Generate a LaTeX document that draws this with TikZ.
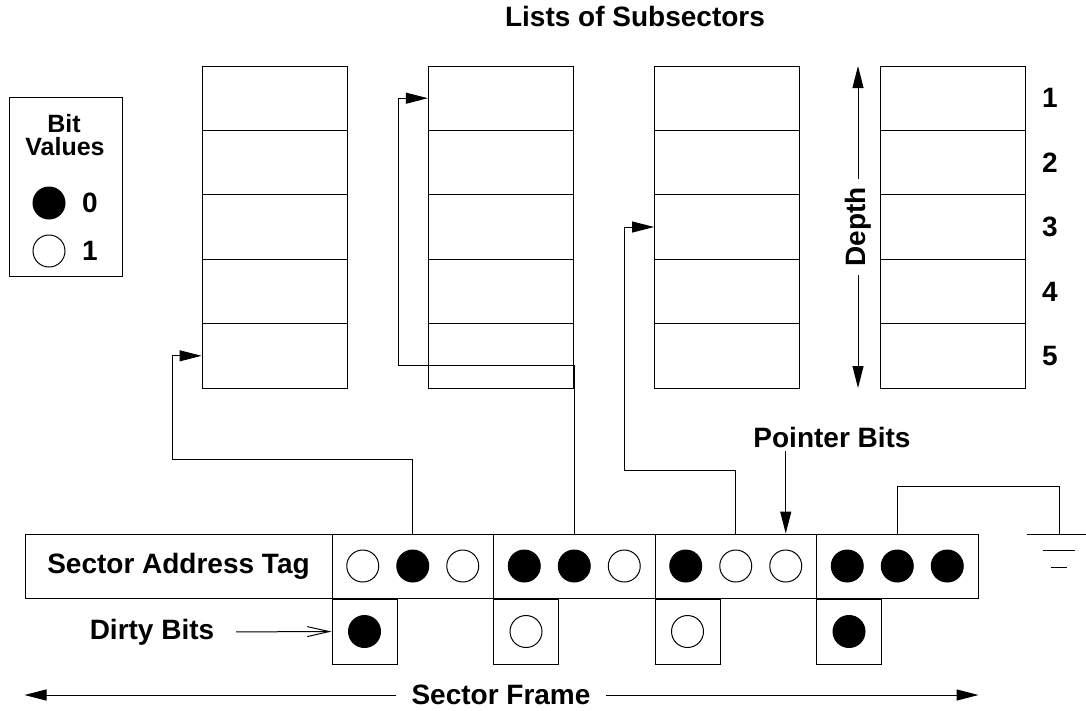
\documentclass[tikz,border=0pt]{standalone}
\usepackage{fontspec}
\setmainfont{Liberation Sans}
\usetikzlibrary{arrows.meta, positioning}

\begin{document}
\begin{tikzpicture}[
    x=1pt, y=-1pt,
    font=\fontsize{28}{30}\selectfont\bfseries,
    line width=1pt,
    tip/.style={-{Triangle[length=22pt,width=11pt]}},
    cell/.style={draw, rectangle, minimum width=145pt, minimum height=64.4pt, inner sep=0pt},
    group/.style={draw, rectangle, minimum width=161.5pt, minimum height=64pt, inner sep=0pt},
    dirty/.style={draw, rectangle, minimum size=65pt, inner sep=0pt},
    bit0/.style={circle, draw, fill=black, minimum size=32pt, inner sep=0pt},
    bit1/.style={circle, draw, minimum size=32pt, inner sep=0pt},
    legtext/.style={font=\fontsize{25}{25}\selectfont\bfseries, inner sep=0pt},
]
    \useasboundingbox (0,0) rectangle (1086,710);

    % lists of subsectors
    \foreach \c in {1,...,4}
        \foreach \r in {1,...,5}
            \node[cell] (L\c-\r) at ({274.5+226.3*(\c-1)}, {98.2+64.4*(\r-1)}) {};
    \foreach \r in {1,...,5}
        \node (n\r) at (1050, {98.2+64.4*(\r-1)}) {\r};
    \node (title) at (635,16) {Lists of Subsectors};

    \coordinate (dtop) at (858,66);
    \coordinate (dbot) at (858,388);
    \draw[{Triangle[length=22pt,width=11pt]}-{Triangle[length=22pt,width=11pt]}]
        (dtop) -- (dbot) node[midway, fill=white, rotate=90, inner sep=8pt] {Depth};

    % legend
    \node[draw, rectangle, minimum width=113pt, minimum height=179pt] (legend) at (65.5,186.5) {};
    \node[legtext] (bittxt) at (64,124) {Bit};
    \node[legtext] (valtxt) at (65,147) {Values};
    \node[bit0] (leg0) at (49,203) {};
    \node[bit1] (leg1) at (49,251) {};
    \node (leg0txt) at (90,203) {0};
    \node (leg1txt) at (90,251) {1};

    % sector frame
    \node[draw, rectangle, minimum width=307pt, minimum height=64pt] (tag) at (178.5,566) {Sector Address Tag};
    \foreach \g/\va/\vb/\vc/\vd in {1/1/0/1/0, 2/0/0/1/1, 3/0/1/1/1, 4/0/0/0/0} {
        \node[group] (g\g) at ({332+161.5*(\g-0.5)}, 566) {};
        \node[bit\va, xshift=-50pt] (b\g-1) at (g\g) {};
        \node[bit\vb]               (b\g-2) at (g\g) {};
        \node[bit\vc, xshift=50pt]  (b\g-3) at (g\g) {};
        \node[dirty, anchor=north west] (d\g) at (g\g.south west) {};
        \node[bit\vd] (db\g) at (d\g) {};
    }

    \node (dirtylbl) at (152,632) {Dirty Bits};
    \draw[-{Straight Barb[length=22pt,width=10pt]}, shorten <=18pt] (dirtylbl.east) -- (d1.west);

    \node (ptrlbl) at (832,437) {Pointer Bits};
    \draw[tip] (ptrlbl.south -| b3-3) -- (b3-3 |- g3.north);

    \node (frame) at (501,695) {Sector Frame};
    \coordinate (fl) at (tag.west |- frame);
    \coordinate (fr) at (g4.east |- frame);
    \draw[tip, shorten <=12pt] (frame.west) -- (fl);
    \draw[tip, shorten <=12pt] (frame.east) -- (fr);

    % pointers
    \coordinate (k1) at (172,459);
    \coordinate (k2) at (398,365);
    \coordinate (k3) at (624,470);
    \coordinate (k4) at (1059,486);
    \coordinate (gnd) at (1059,534);
    \draw[tip] (b1-2 |- g1.north) |- (k1) |- (L1-5.west);
    \draw[tip] (b2-2 |- g2.north) |- (k2) |- (L2-1.west);
    \draw[tip] (b3-2 |- g3.north) |- (k3) |- (L3-3.west);
    \draw (b4-2 |- g4.north) |- (k4) -- (gnd);

    % ground
    \draw (gnd) +(-32,0) -- +(27,0);
    \draw (gnd) +(-16,16) -- +(16,16);
    \draw (gnd) +(-8,33) -- +(8,33);
\end{tikzpicture}
\end{document}
